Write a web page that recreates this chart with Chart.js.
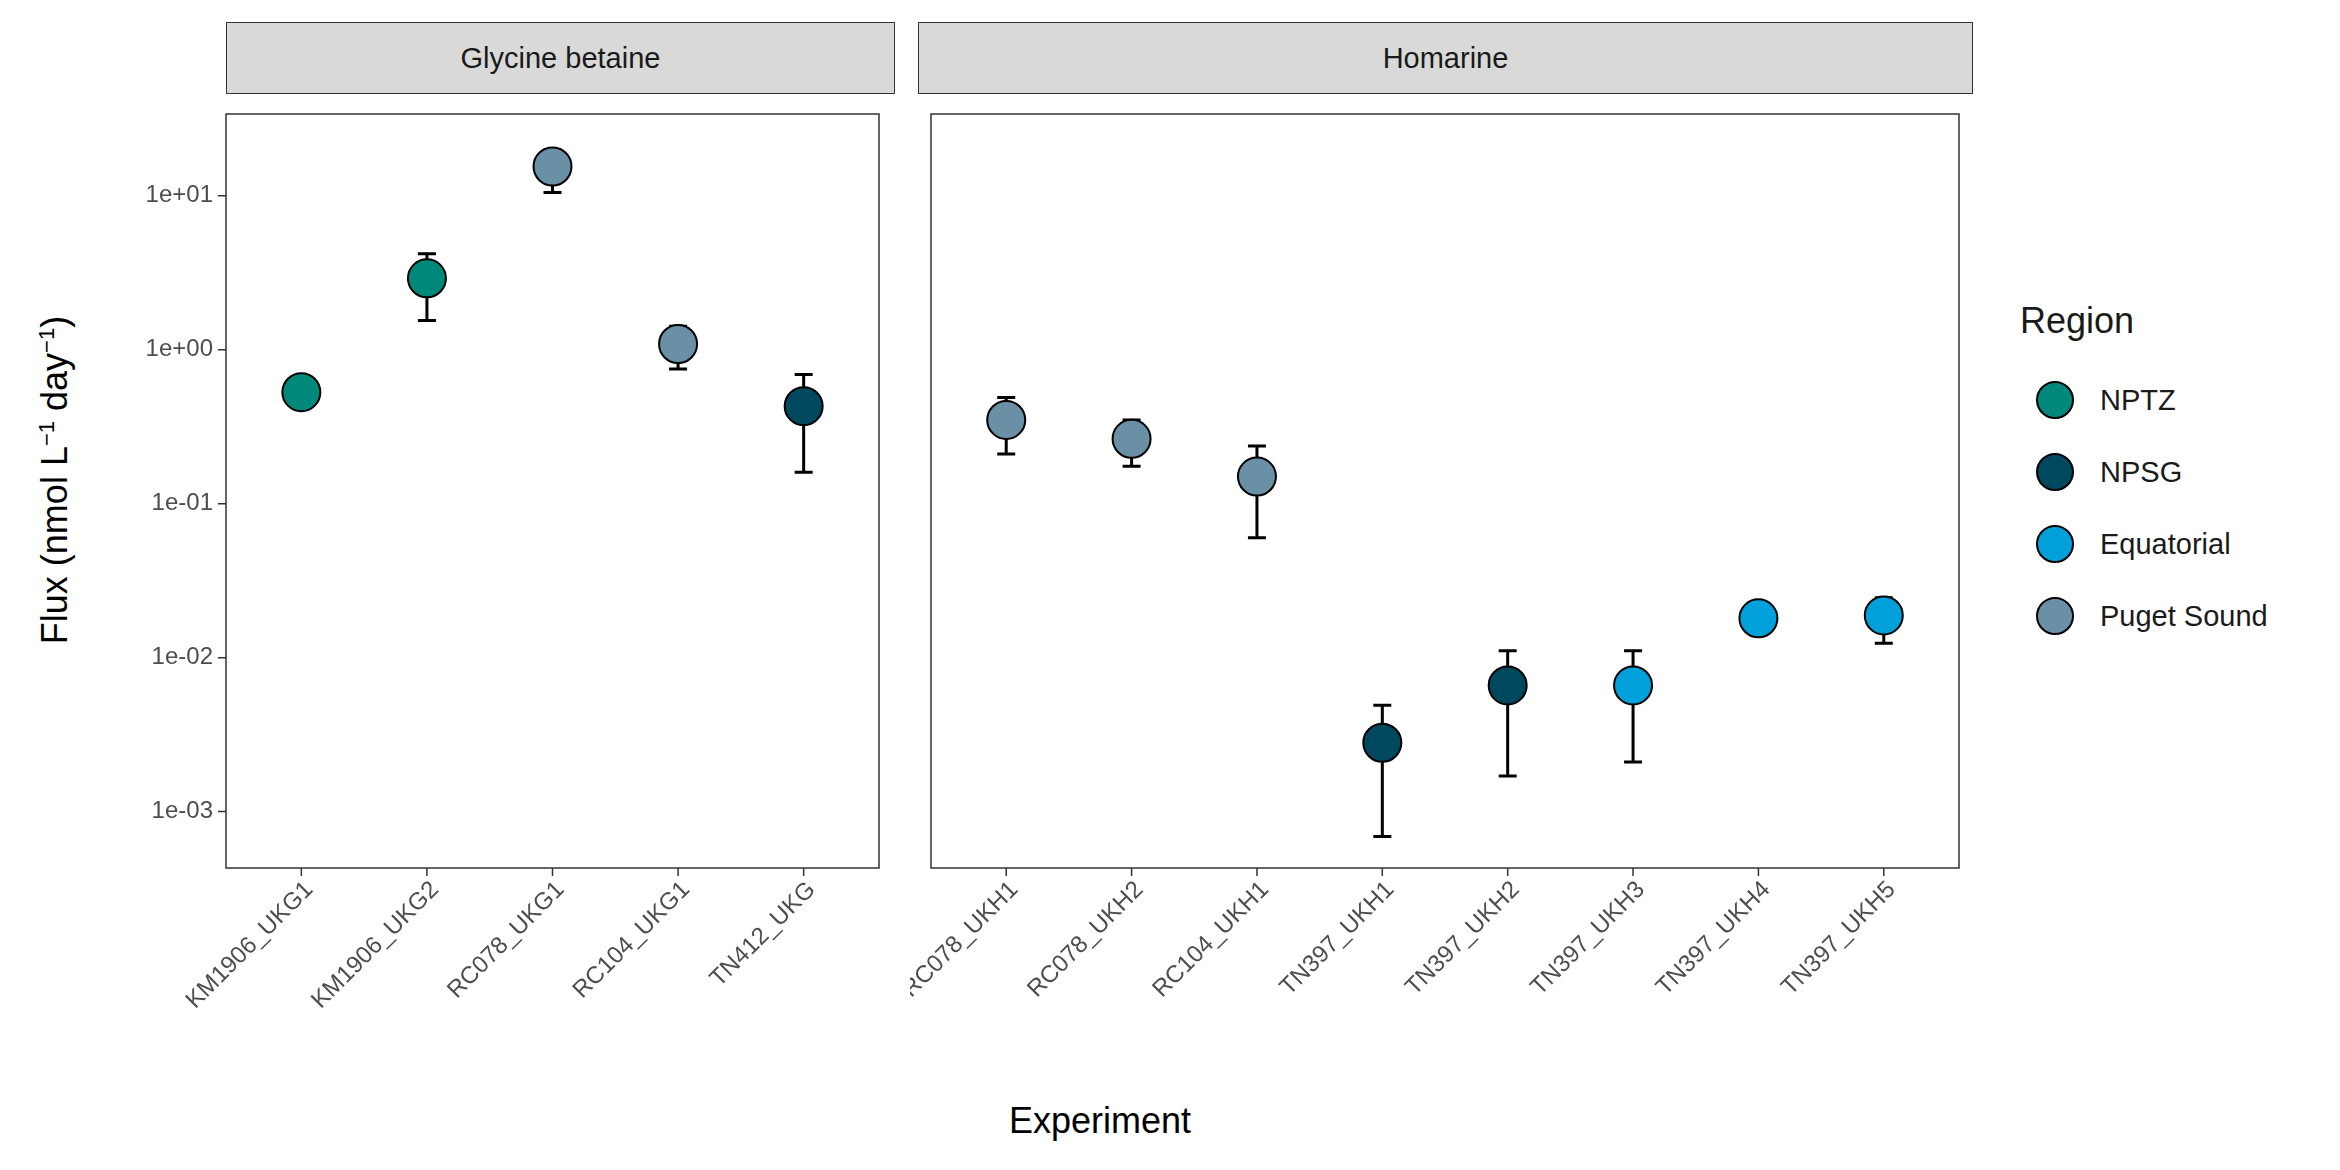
<!DOCTYPE html>
<html><head><meta charset="utf-8">
<script src="https://cdn.jsdelivr.net/npm/chart.js@4.4.1/dist/chart.umd.min.js"></script>
<style>
body{margin:0;width:2340px;height:1170px;background:#fff;font-family:"Liberation Sans",Arial,sans-serif;position:relative;overflow:hidden}
.strip{position:absolute;top:22px;height:72px;background:#d9d9d9;border:1.5px solid #333;box-sizing:border-box;font-size:29px;color:#1a1a1a;display:flex;align-items:center;justify-content:center}
canvas{position:absolute}
.ytitle{position:absolute;left:55px;top:480px;transform:translate(-50%,-50%) rotate(-90deg);font-size:36px;white-space:nowrap;color:#000}
.ytitle sup{font-size:22px}
.xtitle{position:absolute;left:1100px;top:1100px;transform:translateX(-50%);font-size:36px;color:#000}
.legend{position:absolute;left:2020px;top:300px;font-size:29px;color:#1a1a1a}
.legend .ttl{font-size:36px;margin-bottom:22px}
.legend .row{display:flex;align-items:center;height:72px}
.legend .dot{width:38px;height:38px;border-radius:50%;border:2px solid #000;box-sizing:border-box;margin:0 26px 0 16px}
</style></head><body>
<div class="strip" style="left:226px;width:669px">Glycine betaine</div>
<div class="strip" style="left:918px;width:1055px">Homarine</div>
<canvas id="gb" width="800" height="1000" style="left:100px;top:93px;width:800px;height:1000px"></canvas>
<canvas id="hom" width="1070" height="1000" style="left:910px;top:93px;width:1070px;height:1000px"></canvas>
<div class="ytitle">Flux (nmol L<sup>−1</sup> day<sup>−1</sup>)</div>
<div class="xtitle">Experiment</div>
<div class="legend" id="legend"><div class="ttl">Region</div></div>
<script>
const regions = ['NPTZ', 'NPSG', 'Equatorial', 'Puget Sound'];
const regionColors = ['#00897B', '#00485E', '#00A0DA', '#6A90A6'];

const gbExperiments = ['KM1906_UKG1', 'KM1906_UKG2', 'RC078_UKG1', 'RC104_UKG1', 'TN412_UKG'];
const gbFlux = [0.53, 2.91, 15.5, 1.09, 0.43];
const gbLow = [null, 1.55, 10.5, 0.75, 0.16];
const gbHigh = [null, 4.2, 20, 1.42, 0.69];
const gbRegion = ['NPTZ', 'NPTZ', 'Puget Sound', 'Puget Sound', 'NPSG'];

const homExperiments = ['RC078_UKH1', 'RC078_UKH2', 'RC104_UKH1', 'TN397_UKH1', 'TN397_UKH2', 'TN397_UKH3', 'TN397_UKH4', 'TN397_UKH5'];
const homFlux = [0.35, 0.264, 0.15, 0.0028, 0.0066, 0.0066, 0.018, 0.0188];
const homLow = [0.21, 0.175, 0.06, 0.00069, 0.0017, 0.0021, null, 0.0124];
const homHigh = [0.49, 0.35, 0.237, 0.0049, 0.0111, 0.0111, null, 0.0245];
const homRegion = ['Puget Sound', 'Puget Sound', 'Puget Sound', 'NPSG', 'NPSG', 'Equatorial', 'Equatorial', 'Equatorial'];

const yTicks = [1e-3, 1e-2, 1e-1, 1e0, 1e1];
const yTickLabels = ['1e-03', '1e-02', '1e-01', '1e+00', '1e+01'];
const yMin = 4.3e-4, yMax = 34;

const colorOf = r => regionColors[regions.indexOf(r)];

// error bars, panel frame, tick labels
const panelDecor = {
  id: 'panelDecor',
  beforeDatasetsDraw(chart) {
    const {ctx, scales: {x, y}} = chart;
    const ds = chart.data.datasets[0];
    ctx.save();
    ctx.strokeStyle = '#000';
    ctx.lineWidth = 3;
    ds.low.forEach((lo, i) => {
      if (lo == null) return;
      const px = x.getPixelForValue(i);
      const y1 = y.getPixelForValue(lo), y2 = y.getPixelForValue(ds.high[i]);
      ctx.beginPath();
      ctx.moveTo(px, y1); ctx.lineTo(px, y2);
      ctx.moveTo(px - 9, y1); ctx.lineTo(px + 9, y1);
      ctx.moveTo(px - 9, y2); ctx.lineTo(px + 9, y2);
      ctx.stroke();
    });
    ctx.restore();
  },
  afterDraw(chart) {
    const {ctx, chartArea: a, scales: {x, y}} = chart;
    const opts = chart.options.plugins.panelDecor;
    ctx.save();
    ctx.strokeStyle = '#333';
    ctx.lineWidth = 1.5;
    ctx.strokeRect(a.left, a.top, a.right - a.left, a.bottom - a.top);
    ctx.fillStyle = '#4d4d4d';
    ctx.font = '24px "Liberation Sans"';
    ctx.beginPath();
    opts.labels.forEach((lab, i) => {
      const px = x.getPixelForValue(i);
      ctx.moveTo(px, a.bottom); ctx.lineTo(px, a.bottom + 8);
      ctx.save();
      ctx.translate(px + 8, a.bottom + 18);
      ctx.rotate(-Math.PI / 4);
      ctx.textAlign = 'right';
      ctx.textBaseline = 'middle';
      ctx.fillText(lab, 0, 0);
      ctx.restore();
    });
    if (opts.showY) {
      yTicks.forEach((v, i) => {
        const py = y.getPixelForValue(v);
        ctx.moveTo(a.left, py); ctx.lineTo(a.left - 8, py);
        ctx.textAlign = 'right';
        ctx.textBaseline = 'middle';
        ctx.fillText(yTickLabels[i], a.left - 13, py);
      });
    }
    ctx.stroke();
    ctx.restore();
  }
};

function makePanel(id, labels, flux, low, high, region, showY, padLeft) {
  new Chart(document.getElementById(id), {
    type: 'scatter',
    data: {
      datasets: [{
        data: flux.map((v, i) => ({x: i, y: v})),
        low: low, high: high,
        backgroundColor: region.map(colorOf),
        borderColor: '#000',
        borderWidth: 2,
        pointRadius: 19,
        pointHoverRadius: 19
      }]
    },
    options: {
      responsive: false,
      animation: false,
      layout: {padding: {left: padLeft, right: 6, top: 0, bottom: 225}},
      plugins: {legend: {display: false}, tooltip: {enabled: false},
                panelDecor: {labels: labels, showY: showY}},
      scales: {
        x: {type: 'linear', min: -0.6, max: labels.length - 0.4, display: false},
        y: {type: 'logarithmic', min: yMin, max: yMax, display: false}
      }
    },
    plugins: [panelDecor]
  });
}

makePanel('gb', gbExperiments, gbFlux, gbLow, gbHigh, gbRegion, true, 126);
makePanel('hom', homExperiments, homFlux, homLow, homHigh, homRegion, false, 8);

const legend = document.getElementById('legend');
regions.forEach((r, i) => {
  const row = document.createElement('div');
  row.className = 'row';
  row.innerHTML = `<span class="dot" style="background:${regionColors[i]}"></span>${r}`;
  legend.appendChild(row);
});
</script>
</body></html>
